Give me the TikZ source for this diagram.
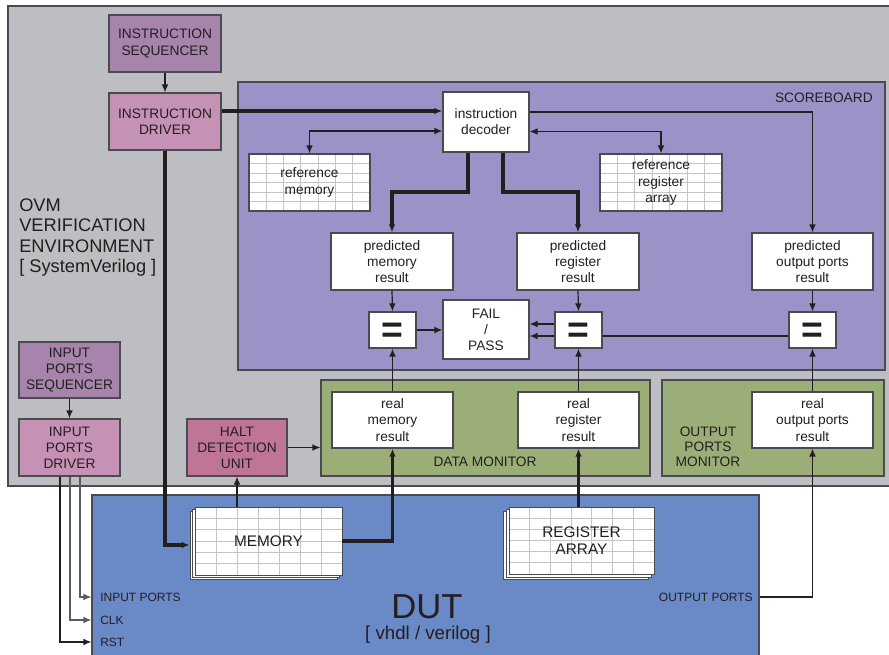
\documentclass[tikz,border=0pt]{standalone}
\usepackage{fontspec}
\setmainfont{Liberation Sans}
\usetikzlibrary{arrows.meta,calc}
\definecolor{bggray}{HTML}{BCBEC1}
\definecolor{sbpurple}{HTML}{9B93C8}
\definecolor{seqpurple}{HTML}{A684AB}
\definecolor{drvpink}{HTML}{C592B5}
\definecolor{haltpink}{HTML}{BE7598}
\definecolor{mongreen}{HTML}{9CAE78}
\definecolor{dutblue}{HTML}{6A8AC7}
\definecolor{edgec}{HTML}{4A4A50}
\definecolor{ink}{HTML}{231F20}
\definecolor{gridc}{HTML}{C4C4C4}
\definecolor{portline}{HTML}{5A5B5E}
\tikzset{
  span/.style n args={4}{at={({(#1+#3)/2},{(#2+#4)/2})}, minimum width={(#3-#1)*0.75pt}, minimum height={(#4-#2)*0.75pt}},
  every node/.style={text=ink},
  box/.style={draw=edgec, line width=0.9pt, inner sep=0pt, align=center, font=\fontsize{10.3}{12.1}\selectfont},
  wbox/.style={box, fill=white},
  eqbox/.style={wbox, font=\fontsize{28}{30}\selectfont\bfseries},
  region/.style={draw=edgec, line width=0.9pt, inner sep=0pt},
  sheet/.style={draw=edgec, line width=0.7pt, fill=white, inner sep=0pt, align=center, font=\fontsize{11.5}{13}\selectfont},
  gridded/.style={path picture={
    \foreach \i in {1,...,6}{\draw[gridc, line width=0.7pt] ($(path picture bounding box.north west)!\i/7!(path picture bounding box.north east)$) -- ($(path picture bounding box.south west)!\i/7!(path picture bounding box.south east)$);}
    \foreach \j in {1,...,5}{\draw[gridc, line width=0.7pt] ($(path picture bounding box.north west)!\j/6!(path picture bounding box.south west)$) -- ($(path picture bounding box.north east)!\j/6!(path picture bounding box.south east)$);}
  }},
  conn/.style={draw=ink, line width=0.9pt},
  portconn/.style={draw=portline, line width=0.9pt},
  bus/.style={draw=ink, line width=2.5pt},
  lbl/.style={inner sep=0pt, font=\fontsize{10.3}{11.3}\selectfont, align=center},
  portlbl/.style={inner sep=0pt, font=\fontsize{9}{10}\selectfont}
}
\newcommand\eqglyph{\raisebox{-2pt}[\height][\depth]{=}}
\begin{document}
\begin{tikzpicture}[x=0.75pt,y=-0.75pt, >={Latex[length=6pt,width=5pt]}]
\useasboundingbox (0,0) rectangle (889,654);
\clip (0,0) rectangle (889,654);
\fill[white] (0,0) rectangle (889,654);

% environment
\node[region, fill=bggray, span={8}{6}{896}{486}] (ovm) {};
\node[anchor=north west, inner sep=0pt, align=left, font=\fontsize{13.7}{15.4}\selectfont] (ovml) at (19,198) {OVM\\VERIFICATION\\ENVIRONMENT\\{[} SystemVerilog {]}};

\node[box, fill=seqpurple, span={109}{15}{221}{72}] (iseq) {INSTRUCTION\\SEQUENCER};
\node[box, fill=drvpink, span={109}{93}{221}{150}] (idrv) {INSTRUCTION\\DRIVER};

% scoreboard
\node[region, fill=sbpurple, span={238}{82}{885}{370}] (sb) {};
\node[anchor=north east, lbl] (sbl) at (873,92.5) {SCOREBOARD};
\node[wbox, span={443}{92}{529}{152}] (dec) {instruction\\decoder};
\node[wbox, gridded, span={249}{154}{370}{211}] (refmem) {reference\\memory};
\node[wbox, gridded, span={600}{154}{722}{211}] (refreg) {reference\\register\\array};
\node[wbox, span={331}{233}{453}{290}] (pmem) {predicted\\memory\\result};
\node[wbox, span={517}{233}{639}{290}] (preg) {predicted\\register\\result};
\node[wbox, span={752}{233}{873}{290}] (pout) {predicted\\output ports\\result};
\node[eqbox, span={369}{312}{416}{348}] (eqm) {\eqglyph};
\node[eqbox, span={555}{312}{602}{348}] (eqr) {\eqglyph};
\node[eqbox, span={789}{312}{836}{348}] (eqo) {\eqglyph};
\node[wbox, span={443}{300}{529}{359}] (fail) {FAIL\\/\\PASS};

% monitors
\node[region, fill=mongreen, span={321}{380}{650}{476}] (dmon) {};
\node[lbl] (dmonl) at (485,462) {DATA MONITOR};
\node[region, fill=mongreen, span={662}{380}{884}{476}] (omon) {};
\node[lbl] (omonl) at (708,447) {OUTPUT\\PORTS\\MONITOR};
\node[wbox, span={332}{392}{453}{448}] (rmem) {real\\memory\\result};
\node[wbox, span={518}{392}{639}{448}] (rreg) {real\\register\\result};
\node[wbox, span={752}{392}{873}{448}] (rout) {real\\output ports\\result};

\node[box, fill=haltpink, span={187}{419}{287}{476}] (halt) {HALT\\DETECTION\\UNIT};
\node[box, fill=seqpurple, span={19}{342}{120}{398}] (ipseq) {INPUT\\PORTS\\SEQUENCER};
\node[box, fill=drvpink, span={19}{419}{120}{476}] (ipdrv) {INPUT\\PORTS\\DRIVER};

% DUT
\node[region, fill=dutblue, span={92}{495}{759}{670}] (dut) {};
\node[inner sep=0pt, font=\fontsize{26}{26}\selectfont] (dutl) at (427,606.5) {DUT};
\node[inner sep=0pt, font=\fontsize{14}{14}\selectfont] (dutsub) at (428,635) {[ vhdl / verilog ]};

\node[sheet, span={190}{511}{337}{579}] (mem3) {};
\node[sheet, span={192.5}{509}{339.5}{577}] (mem2) {};
\node[sheet, gridded, span={195}{507}{342}{575}] (mem) {MEMORY};
\node[sheet, span={503}{511}{648}{579}] (reg3) {};
\node[sheet, span={506}{509}{651}{577}] (reg2) {};
\node[sheet, gridded, span={509}{507}{654}{574}] (reg) {REGISTER\\ARRAY};

\node[portlbl, anchor=west] (inpl) at (100,597) {INPUT PORTS};
\node[portlbl, anchor=west] (clkl) at (100,620) {CLK};
\node[portlbl, anchor=west] (rstl) at (100,642) {RST};
\node[portlbl, anchor=east] (outpl) at (753,597) {OUTPUT PORTS};

% connectors
\draw[conn, ->] (iseq) -- (idrv);
\draw[conn, ->] (ipseq) -- (ipdrv);
\draw[bus, ->] (idrv.east |- 0,111) -- (dec.west |- 0,111);
\draw[conn, <->] (refmem.north) |- (dec.west |- 0,131);
\draw[conn, <->] (dec.east |- 0,131.5) -| (refreg.north);
\draw[conn, ->] (dec.east |- 0,112) -| (pout.north);
\draw[bus, ->] (dec.south -| 468,0) -- (468,192) -| (pmem.north);
\draw[bus, ->] (dec.south -| 503,0) -- (503,192) -| (preg.north);
\draw[conn, ->] (pmem.south) -- (eqm.north);
\draw[conn, ->] (preg.south) -- (eqr.north);
\draw[conn, ->] (pout.south) -- (eqo.north);
\draw[conn, ->] (eqm.east) -- (eqm.east -| fail.west);
\draw[conn, ->] (eqr.west |- 0,324) -- (fail.east |- 0,324);
\draw[conn] (eqo.west |- 0,336) -- (eqr.east |- 0,336);
\draw[conn, ->] (eqr.west |- 0,336) -- (fail.east |- 0,336);
\draw[conn, ->] (rmem.north) -- (eqm.south);
\draw[conn, ->] (rreg.north) -- (eqr.south);
\draw[conn, ->] (rout.north) -- (eqo.south);
\draw[bus, ->] (idrv.south) |- (mem3.west);
\draw[bus, ->] (mem.east |- 0,541) -| (rmem.south);
\draw[bus, ->] (rreg.south |- reg.north) -- (rreg.south);
\draw[conn, ->] (halt.south |- mem.north) -- (halt.south);
\draw[conn, ->] (halt.east) -- (halt.east -| dmon.west);
\draw[conn, ->] (dut.east |- outpl) -| (rout.south);
\draw[portconn, ->] (ipdrv.south -| 80,0) |- (dut.west |- inpl);
\draw[portconn, ->] (ipdrv.south -| 70,0) |- (dut.west |- clkl);
\draw[conn, ->] (ipdrv.south -| 60,0) |- (dut.west |- rstl);
\end{tikzpicture}
\end{document}
